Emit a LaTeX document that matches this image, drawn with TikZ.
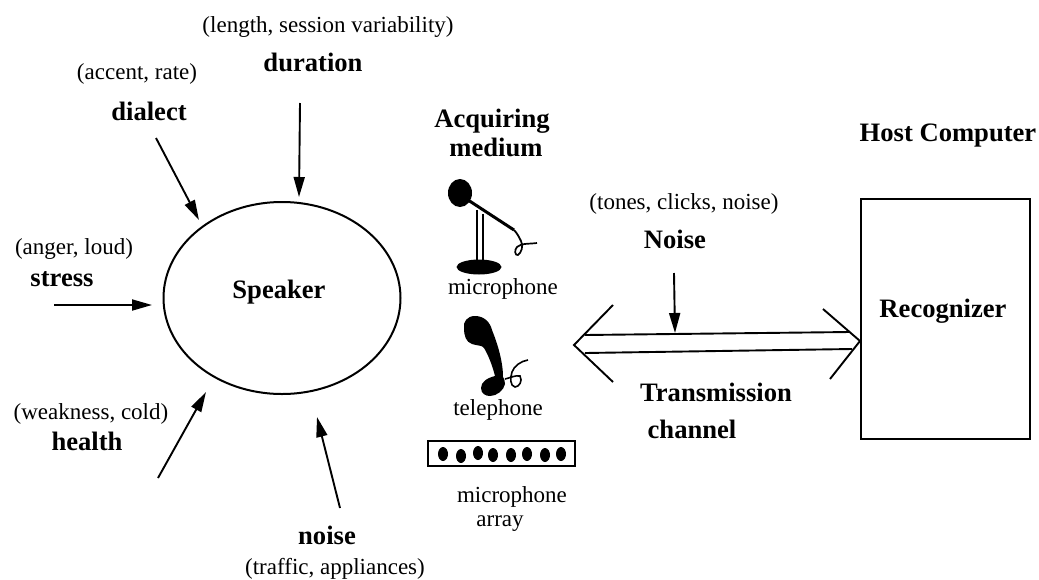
\documentclass[tikz,border=0pt]{standalone}
\usepackage{fontspec}
\setmainfont{Liberation Serif}
\usetikzlibrary{arrows.meta,shapes.geometric}
\tikzset{
 x=1pt,y=-1pt,
 lab/.style={font=\fontsize{23}{27}\selectfont,inner sep=0pt,align=center},
 blab/.style={font=\fontsize{26.6}{31}\selectfont\bfseries,inner sep=0pt,align=center},
 arr/.style={line width=1.9pt,-{Triangle[length=20pt,width=11pt]}},
 ln/.style={line width=1.9pt},
 ink/.style={fill=black,draw=none}
}
\begin{document}
\begin{tikzpicture}
\useasboundingbox (0,0) rectangle (1039,579);
\fill[white] (0,0) rectangle (1039,579);
% labels
\node[lab] (l1) at (328,27) {(length, session variability)};
\node[blab] (b1) at (313,62) {duration};
\node[lab] (l2) at (137,74) {(accent, rate)};
\node[blab] (b2) at (149,111) {dialect};
\node[lab] (l3) at (74,249) {(anger, loud)};
\node[blab] (b3) at (62,279) {stress};
\node[lab] (l4) at (91,414) {(weakness, cold)};
\node[blab] (b4) at (87,441) {health};
\node[blab] (b5) at (327,535) {noise};
\node[lab] (l5) at (335,569) {(traffic, appliances)};
\node[blab] (acq) at (492,121) {Acquiring};
\node[blab] (med) at (496,147) {medium};
\node[blab] (host) at (948,136) {Host Computer};
\node[lab] (mic) at (503,289) {microphone};
\node[lab] (tel) at (498,410) {telephone};
\node[lab] (arrl) at (512,497) {microphone};
\node[lab] (arrm) at (500,524) {array};
\node[lab] (l6) at (684,204) {(tones, clicks, noise)};
\node[blab] (nz) at (675,239) {Noise};
\node[blab] (tc) at (716,392) {Transmission};
\node[blab] (tc2) at (692,429) {channel};
% speaker
\node[draw,line width=2pt,ellipse,minimum width=237pt,minimum height=192pt,inner sep=0pt] (spk) at (282,298) {};
\node[blab] (spkl) at (279,292) {Speaker};
% host box
\node[draw,line width=2pt,minimum width=169pt,minimum height=240pt,inner sep=0pt] (rec) at (945,319) {};
\node[blab] (recl) at (943,311) {Recognizer};
% arrows
\coordinate (a1s) at (300,103); \coordinate (a1e) at (299,197);
\coordinate (a2s) at (156,138); \coordinate (a2e) at (199,220);
\coordinate (a3s) at (54,305); \coordinate (a3e) at (152,305);
\coordinate (a4s) at (158,478); \coordinate (a4e) at (206,392);
\coordinate (a5s) at (340,508); \coordinate (a5e) at (317,417);
\coordinate (a6s) at (674,273); \coordinate (a6e) at (675,333);
\draw[arr] (a1s) -- (a1e);
\draw[arr] (a2s) -- (a2e);
\draw[arr] (a3s) -- (a3e);
\draw[arr] (a4s) -- (a4e);
\draw[arr] (a5s) -- (a5e);
\draw[arr] (a6s) -- (a6e);
% channel
\coordinate (tl) at (574,345); \coordinate (tr) at (860,341);
\coordinate (cht1) at (585,335); \coordinate (cht2) at (850,332);
\coordinate (chb1) at (585,353); \coordinate (chb2) at (852,349);
\coordinate (hl1) at (613,305); \coordinate (hl2) at (613,382);
\coordinate (hr1) at (823,309); \coordinate (hr2) at (830,379);
\draw[ln] (cht1) -- (cht2);
\draw[ln] (chb1) -- (chb2);
\draw[ln] (hl1) -- (tl) -- (hl2);
\draw[ln] (hr1) -- (tr) -- (hr2);
% microphone
\fill[ink] (460,193) ellipse (12 and 14);
\fill[ink] (479,267) ellipse (22.5 and 7.5);
\draw[line width=3pt] (468,200) -- (514,230);
\draw[line width=1.8pt] (514,230) .. controls (517,233) and (519,237) .. (521,241);
\draw[line width=1.4pt] (477,210) -- (477,262) (483,214) -- (483,262);
\draw[line width=1.7pt] (521,241) .. controls (524,246) and (521,253) .. (518,255) .. controls (515,256) and (514,250) .. (517,247) .. controls (521,243) and (530,244) .. (537,243);
% telephone
\fill[ink] (475,316) .. controls (467,316) and (463,322) .. (464,328) .. controls (464,336) and (466,342) .. (472,344) .. controls (478,346) and (482,345) .. (484,348) .. controls (489,356) and (493,368) .. (495,376) .. controls (487,378) and (481,382) .. (481,388) .. controls (481,394) and (486,396) .. (490,396) .. controls (497,396) and (504,390) .. (505,384) .. controls (505,381) and (504,378) .. (503,377) .. controls (503,362) and (498,345) .. (492,330) .. controls (490,322) and (484,316) .. (475,316) -- cycle;
\draw[line width=1.6pt] (505,379) .. controls (510,378) and (515,375) .. (520,376) .. controls (523,381) and (519,387) .. (515,387) .. controls (510,386) and (510,378) .. (512,372) .. controls (514,366) and (521,361) .. (528,360);
% array
\draw[line width=2pt] (428,441) rectangle (575,466);
\foreach \i/\x/\yy in {1/443/454,2/461/456,3/478/453,4/493/455,5/511/455,6/527/454,7/545/455,8/561/454}{
  \fill[ink] (\x,\yy) ellipse (5 and 7);
}
\end{tikzpicture}
\end{document}
